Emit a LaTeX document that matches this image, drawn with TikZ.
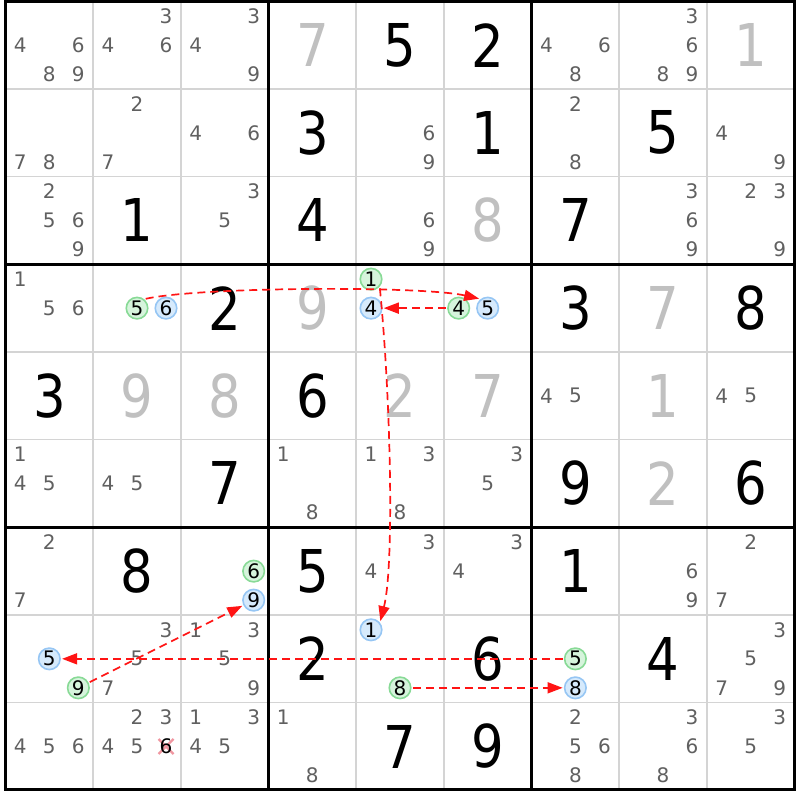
\documentclass[tikz,border=0pt]{standalone}
\usepackage{fontspec}
\setmainfont{DejaVu Sans}
\newfontfamily\bigfam[FakeStretch=0.87]{DejaVu Sans}
\usetikzlibrary{arrows.meta}
\definecolor{candgray}{RGB}{96,96,96}
\definecolor{solgray}{RGB}{192,192,192}
\definecolor{gridgray}{RGB}{212,212,212}
\definecolor{gfill}{RGB}{214,244,220}
\definecolor{gline}{RGB}{136,218,150}
\definecolor{bfill}{RGB}{214,234,252}
\definecolor{bline}{RGB}{150,198,244}
\definecolor{xpink}{RGB}{240,150,160}
\definecolor{arrred}{RGB}{255,20,20}
\newcommand\candfont{\fontsize{20}{20}\selectfont}
\newcommand\bigfont{\bigfam\fontsize{59}{59}\selectfont}
\newcommand\hlnode[5]{\node[#1] (#2) at ({5.5+(#4-0.5)*87.67+(mod(#5-1,3)-1)*29}, {798.7-(#3-0.5)*87.67-(int((#5-1)/3)-1)*29}) {#5};}
\begin{document}
\begin{tikzpicture}[x=1pt,y=1pt,
  cand/.style={inner sep=0pt, font=\candfont, text=candgray},
  given/.style={inner sep=0pt, font=\bigfont, text=black},
  solved/.style={inner sep=0pt, font=\bigfont, text=solgray},
  hlg/.style={circle, inner sep=0pt, minimum size=21.5pt, draw=gline, fill=gfill, line width=1.6pt, outer sep=2pt, font=\candfont, text=black},
  hlb/.style={hlg, draw=bline, fill=bfill},
  arr/.style={color=arrred, line width=1.7pt, dash pattern=on 8pt off 5pt, -{Triangle[length=15pt,width=11pt]}},
  gridthin/.style={draw=gridgray, line width=1.5pt},
  gridthick/.style={draw=black, line width=3pt}
]
\useasboundingbox (0,0) rectangle (800,800);
\fill[white] (0,0) rectangle (800,800);
% grid
\foreach \k in {1,2,4,5,7,8} {
  \draw[gridthin] ({5.5+\k*87.67}, 798.7) -- ({5.5+\k*87.67}, 10.0);
  \draw[gridthin] (5.5, {798.7-\k*87.67}) -- (794.5, {798.7-\k*87.67});
}
\foreach \k in {3,6} {
  \draw[gridthick] ({5.5+\k*87.67}, 798.7) -- ({5.5+\k*87.67}, 10.0);
  \draw[gridthick] (5.5, {798.7-\k*87.67}) -- (794.5, {798.7-\k*87.67});
}
\draw[gridthick] (5.5,10.0) rectangle (794.5,798.7);
% givens
\foreach \ro/\co/\v in {1/5/5,1/6/2,2/4/3,2/6/1,2/8/5,3/2/1,3/4/4,3/7/7,4/3/2,4/7/3,4/9/8,5/1/3,5/4/6,6/3/7,6/7/9,6/9/6,7/2/8,7/4/5,7/7/1,8/4/2,8/6/6,8/8/4,9/5/7,9/6/9}
  \node[given] (g\ro\co) at ({5.5+(\co-0.5)*87.67}, {798.7-(\ro-0.5)*87.67}) {\v};
% solved (gray)
\foreach \ro/\co/\v in {1/4/7,1/9/1,3/6/8,4/4/9,4/8/7,5/2/9,5/3/8,5/5/2,5/6/7,5/8/1,6/8/2}
  \node[solved] (s\ro\co) at ({5.5+(\co-0.5)*87.67}, {798.7-(\ro-0.5)*87.67}) {\v};
% candidates
\foreach \ro/\co/\L in {1/1/{4,6,8,9}, 1/2/{3,4,6}, 1/3/{3,4,9}, 1/7/{4,6,8}, 1/8/{3,6,8,9},
  2/1/{7,8}, 2/2/{2,7}, 2/3/{4,6}, 2/5/{6,9}, 2/7/{2,8}, 2/9/{4,9},
  3/1/{2,5,6,9}, 3/3/{3,5}, 3/5/{6,9}, 3/8/{3,6,9}, 3/9/{2,3,9},
  4/1/{1,5,6},
  5/7/{4,5}, 5/9/{4,5},
  6/1/{1,4,5}, 6/2/{4,5}, 6/4/{1,8}, 6/5/{1,3,8}, 6/6/{3,5},
  7/1/{2,7}, 7/5/{3,4}, 7/6/{3,4}, 7/8/{6,9}, 7/9/{2,7},
  8/2/{3,5,7}, 8/3/{1,3,5,9}, 8/9/{3,5,7,9},
  9/1/{4,5,6}, 9/2/{2,3,4,5}, 9/3/{1,3,4,5}, 9/4/{1,8}, 9/7/{2,5,6,8}, 9/8/{3,6,8}, 9/9/{3,5}}
{
  \foreach \d in \L
    \node[cand] (n\ro\co\d) at ({5.5+(\co-0.5)*87.67+(mod(\d-1,3)-1)*29}, {798.7-(\ro-0.5)*87.67-(int((\d-1)/3)-1)*29}) {\d};
}
% crossed-out candidate
\coordinate (xc) at ({5.5+1.5*87.67+29}, {798.7-8.5*87.67});
\draw[xpink, line width=2.2pt] (xc) +(-7.5,-7.5) -- +(7.5,7.5);
\draw[xpink, line width=2.2pt] (xc) +(-7.5,7.5) -- +(7.5,-7.5);
\node[cand, text=black] (x926) at (xc) {6};
% highlighted candidates
\hlnode{hlg}{A5}{4}{2}{5}
\hlnode{hlb}{A6}{4}{2}{6}
\hlnode{hlg}{B1}{4}{5}{1}
\hlnode{hlb}{B4}{4}{5}{4}
\hlnode{hlg}{C4}{4}{6}{4}
\hlnode{hlb}{C5}{4}{6}{5}
\hlnode{hlg}{D6}{7}{3}{6}
\hlnode{hlb}{D9}{7}{3}{9}
\hlnode{hlb}{E5}{8}{1}{5}
\hlnode{hlg}{E9}{8}{1}{9}
\hlnode{hlb}{F1}{8}{5}{1}
\hlnode{hlg}{F8}{8}{5}{8}
\hlnode{hlg}{G5}{8}{7}{5}
\hlnode{hlb}{G8}{8}{7}{8}
% links
\draw[arr] (A5.47) .. controls +(53,12) and +(-58,13) .. (C5.132);
\draw[arr] (C4) -- (B4);
\draw[arr] (B1.-46) .. controls +(11,-111) and +(14,55) .. (F1.43);
\draw[arr] (E9) -- (D9);
\draw[arr] (G5) -- (E5);
\draw[arr] (F8) -- (G8);
\end{tikzpicture}
\end{document}
